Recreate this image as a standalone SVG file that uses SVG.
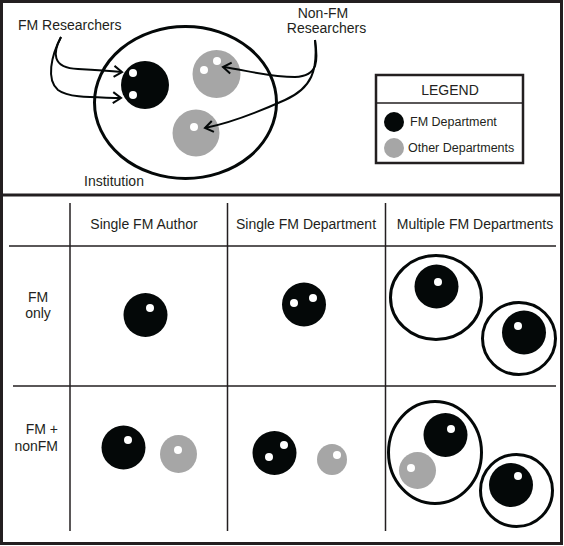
<svg xmlns="http://www.w3.org/2000/svg" width="564" height="546" viewBox="0 0 564 546">
<style>
text{font-family:"Liberation Sans",Arial,Helvetica,sans-serif;fill:#231f20;font-size:14px}
.lg{font-size:12.5px}
.fm{fill:#040808}
.ot{fill:#a6a6a6}
.dot{fill:#fff}
.ring{fill:none;stroke:#040808;stroke-width:3}
.grid{stroke:#231f20;stroke-width:1.5;fill:none}
.conn{fill:none;stroke:#040808;stroke-width:2;marker-end:url(#arr)}
</style>
<defs>
<marker id="arr" markerUnits="userSpaceOnUse" markerWidth="14" markerHeight="14" viewBox="0 0 14 14" refX="11" refY="7" orient="auto">
<path d="M3,1.5 L11,7 L3,12.5" fill="none" stroke="#040808" stroke-width="2"/>
</marker>
</defs>
<rect x="0" y="0" width="564" height="546" fill="#fff"/>
<g id="frame">
<rect x="1.5" y="1.5" width="560" height="542" fill="none" stroke="#231f20" stroke-width="3"/>
<line x1="1.5" y1="195" x2="561.5" y2="195" stroke="#231f20" stroke-width="3"/>
</g>
<g id="institution">
<ellipse class="ring" cx="185.5" cy="102.5" rx="91" ry="76"/>
<text x="84" y="186">Institution</text>
</g>
<g id="fm-dept-top">
<circle class="fm" cx="145" cy="85" r="24"/>
<circle class="dot" cx="133" cy="73" r="4"/>
<circle class="dot" cx="133" cy="95" r="4"/>
</g>
<g id="other-dept-top-1">
<circle class="ot" cx="216.5" cy="74" r="24"/>
<circle class="dot" cx="204" cy="70" r="4"/>
<circle class="dot" cx="217" cy="61" r="4"/>
</g>
<g id="other-dept-top-2">
<circle class="ot" cx="196" cy="133" r="23.5"/>
<circle class="dot" cx="194" cy="127" r="4"/>
</g>
<g id="fm-researchers-label">
<text x="18" y="30">FM Researchers</text>
</g>
<g id="nonfm-researchers-label">
<text x="323" y="18" text-anchor="middle">Non-FM</text>
<text x="326.5" y="33" text-anchor="middle">Researchers</text>
</g>
<g id="connectors">
<path class="conn" d="M61,37 C53,52 51,68 78,69 C95,70 110,71 122,72"/>
<path class="conn" d="M61,37 C51,56 46,80 58,90 C70,99 100,97 121,98"/>
<path class="conn" d="M315,40 C318,60 319,76 295,77 C270,77 245,70 223,67"/>
<path class="conn" d="M315,40 C318,70 312,88 285,100 C265,109 235,122 205,128"/>
</g>
<g id="legend">
<rect x="376" y="75" width="147" height="88" fill="#fff" stroke="#231f20" stroke-width="2.5"/>
<line x1="376" y1="103" x2="523" y2="103" stroke="#231f20" stroke-width="1.5"/>
<text x="450" y="95" text-anchor="middle">LEGEND</text>
<circle class="fm" cx="394" cy="122" r="10"/>
<text class="lg" x="410" y="126">FM Department</text>
<circle class="ot" cx="394" cy="148" r="10"/>
<text class="lg" x="408" y="152">Other Departments</text>
</g>
<g id="table-grid">
<line class="grid" x1="70" y1="203" x2="70" y2="531"/>
<line class="grid" x1="227.5" y1="203" x2="227.5" y2="531"/>
<line class="grid" x1="385.5" y1="203" x2="385.5" y2="531"/>
<line class="grid" x1="9" y1="246" x2="556" y2="246"/>
<line class="grid" x1="13" y1="386" x2="556" y2="386"/>
</g>
<g id="col-headers">
<text x="144" y="229" text-anchor="middle">Single FM Author</text>
<text x="306" y="229" text-anchor="middle">Single FM Department</text>
<text x="475" y="229" text-anchor="middle">Multiple FM Departments</text>
</g>
<g id="row-headers">
<text x="38" y="302" text-anchor="middle">FM</text>
<text x="38" y="318" text-anchor="middle">only</text>
<text x="58" y="434" text-anchor="end">FM +</text>
<text x="58" y="451" text-anchor="end">nonFM</text>
</g>
<g id="cell-fm-single-author">
<circle class="fm" cx="145.5" cy="315" r="22"/>
<circle class="dot" cx="150" cy="308" r="4"/>
</g>
<g id="cell-fm-single-dept">
<circle class="fm" cx="304" cy="304.5" r="22"/>
<circle class="dot" cx="294" cy="303" r="4"/>
<circle class="dot" cx="313" cy="298" r="4"/>
</g>
<g id="cell-fm-multi-dept">
<ellipse class="ring" cx="436" cy="297.5" rx="45.5" ry="42"/>
<circle class="fm" cx="436.5" cy="286.5" r="22"/>
<circle class="dot" cx="438" cy="282" r="4"/>
<ellipse class="ring" cx="519" cy="338.5" rx="36.5" ry="36"/>
<circle class="fm" cx="524" cy="332.5" r="22"/>
<circle class="dot" cx="518" cy="326" r="4"/>
</g>
<g id="cell-mixed-single-author">
<circle class="fm" cx="123.5" cy="447.5" r="22"/>
<circle class="dot" cx="128" cy="440" r="4"/>
<ellipse class="ot" cx="178.5" cy="454" rx="18.5" ry="19"/>
<circle class="dot" cx="178" cy="450" r="4"/>
</g>
<g id="cell-mixed-single-dept">
<circle class="fm" cx="274.5" cy="453" r="22"/>
<circle class="dot" cx="284" cy="445" r="4"/>
<circle class="dot" cx="269" cy="457" r="4"/>
<ellipse class="ot" cx="332" cy="459.5" rx="15" ry="15.5"/>
<circle class="dot" cx="337" cy="455" r="4"/>
</g>
<g id="cell-mixed-multi-dept">
<ellipse class="ring" cx="435" cy="452.5" rx="46.5" ry="51"/>
<circle class="fm" cx="445.5" cy="435" r="22"/>
<circle class="dot" cx="451" cy="429" r="4"/>
<circle class="ot" cx="417.5" cy="470.5" r="18.5"/>
<circle class="dot" cx="411" cy="468" r="4"/>
<ellipse class="ring" cx="516.5" cy="490.5" rx="36" ry="36"/>
<circle class="fm" cx="511" cy="485" r="22"/>
<circle class="dot" cx="518" cy="476" r="4"/>
</g>
</svg>
